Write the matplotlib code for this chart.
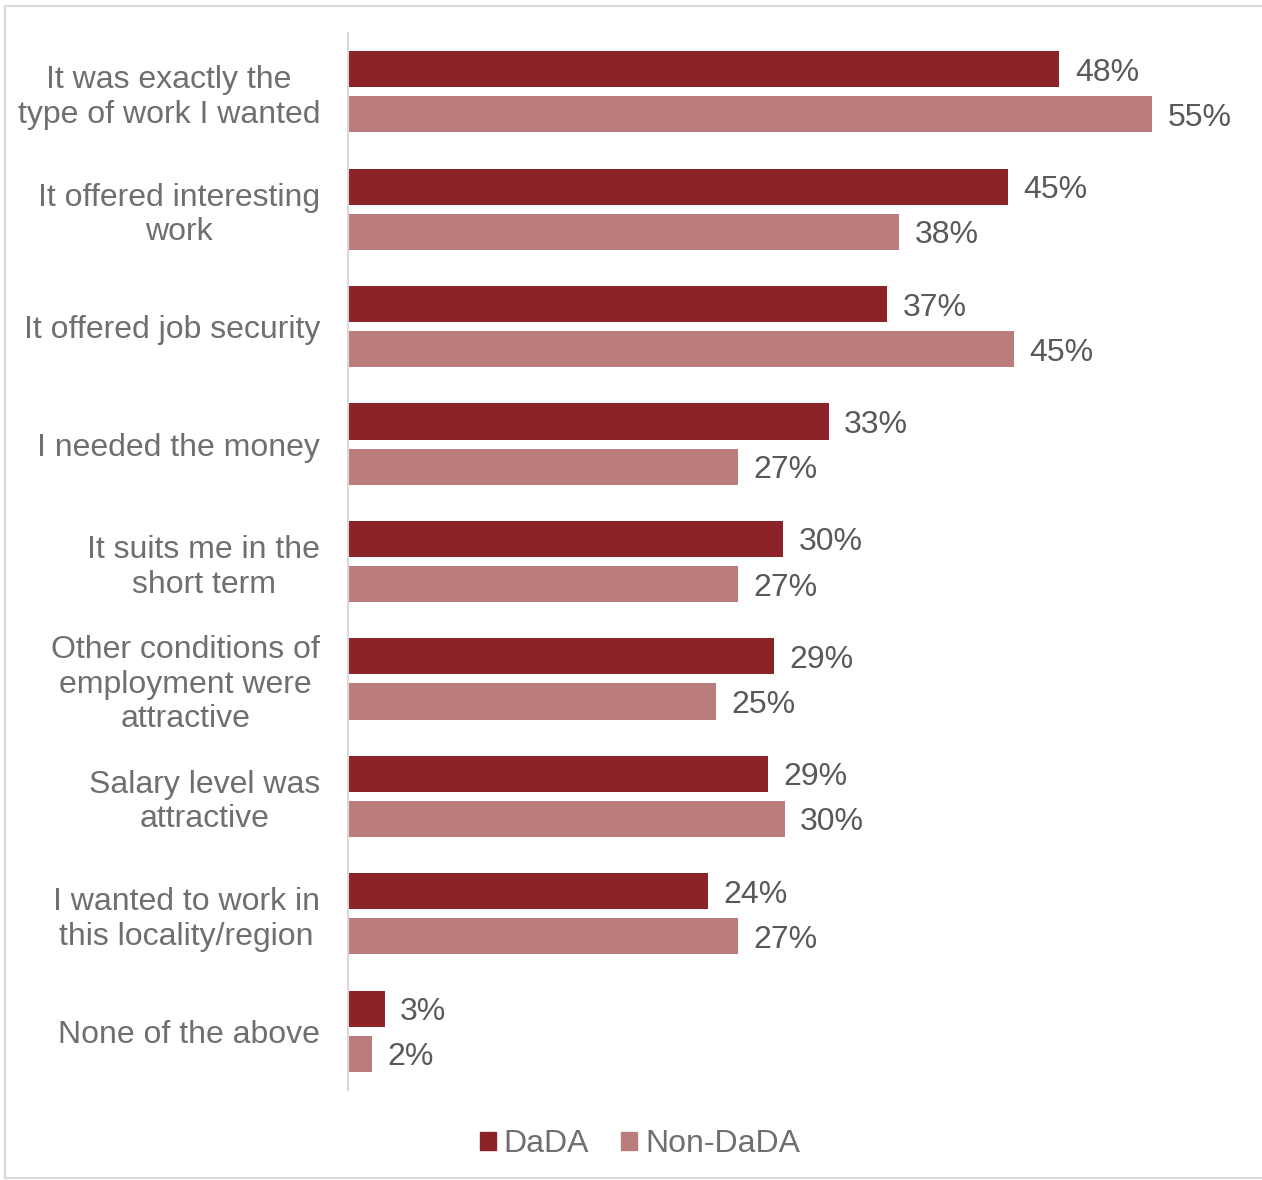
import matplotlib.pyplot as plt
from matplotlib.lines import Line2D
from matplotlib.patches import Patch

plt.rcParams['font.family'] = ['Liberation Sans', 'DejaVu Sans']

categories = ['It was exactly the\ntype of work I wanted',
              'It offered interesting\nwork',
              'It offered job security',
              'I needed the money',
              'It suits me in the\nshort term',
              'Other conditions of\nemployment were\nattractive',
              'Salary level was\nattractive',
              'I wanted to work in\nthis locality/region',
              'None of the above']
# bar lengths, labels as printed
dada = [48.4, 44.9, 36.7, 32.7, 29.6, 29.0, 28.6, 24.5, 2.5]
non_dada = [54.7, 37.5, 45.3, 26.5, 26.5, 25.0, 29.7, 26.5, 1.6]
dada_labels = [48, 45, 37, 33, 30, 29, 29, 24, 3]
non_dada_labels = [55, 38, 45, 27, 27, 25, 30, 27, 2]
series_names = ['DaDA', 'Non-DaDA']
colors = ['#8B2329', '#BA7D7C']

fig = plt.figure(figsize=(12.62, 11.8), dpi=100)
# light frame: top, left, bottom (right side runs off the picture)
x0, y0, y1 = 5 / 1262, 2 / 1180, 1 - 6 / 1180
for xs, ys in (([x0, 1], [y1, y1]), ([x0, x0], [y0, y1]), ([x0, 1], [y0, y0])):
    fig.add_artist(Line2D(xs, ys, transform=fig.transFigure,
                          color='#d9d9d9', linewidth=1.5))

ax = fig.add_axes([348 / 1262, 1 - 1090 / 1180, 882 / 1262, 1057 / 1180])

pos = list(range(len(categories)))
off = 0.192
h = 0.307
b1 = ax.barh([p - off for p in pos], dada, height=h, color=colors[0])
b2 = ax.barh([p + off for p in pos], non_dada, height=h, color=colors[1])

for bars, labels in ((b1, dada_labels), (b2, non_dada_labels)):
    for bar, v in zip(bars, labels):
        ax.text(bar.get_width() + 1.05, bar.get_y() + bar.get_height() / 2,
                f'{v}%', va='center_baseline', ha='left', fontsize=23,
                color='#595959')

ax.set_xlim(0, 60)
ax.set_ylim(8.5, -0.5)
ax.set_yticks(pos)
ax.set_yticklabels(categories, fontsize=23, color='#6f6f6f',
                   ha='right', multialignment='center')
ax.tick_params(axis='y', length=0, pad=20)
ax.set_xticks([])
for s in ['top', 'right', 'bottom']:
    ax.spines[s].set_visible(False)
ax.spines['left'].set_color('#d9d9d9')
ax.spines['left'].set_linewidth(1.5)

handles = [Patch(color=c, label=n) for c, n in zip(colors, series_names)]
fig.legend(handles=handles, loc='center', bbox_to_anchor=(640 / 1262, 1 - 1144 / 1180),
           ncol=2, frameon=False, fontsize=23, handlelength=0.5, handleheight=0.5,
           handletextpad=0.25, columnspacing=1.0, labelcolor='#6f6f6f')

fig.savefig('out.png', dpi=100)
